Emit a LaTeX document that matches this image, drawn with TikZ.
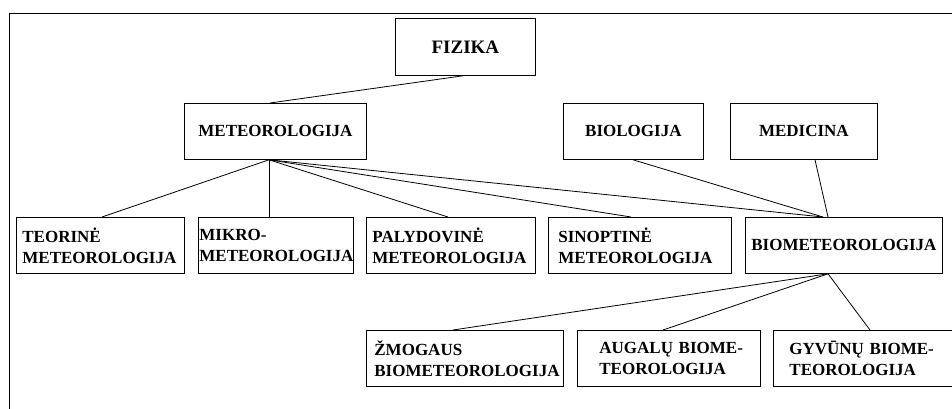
\documentclass[tikz,border=0pt]{standalone}
\usepackage{fontspec}
\setmainfont{Liberation Serif}
\usetikzlibrary{calc,positioning}

\begin{document}
\begin{tikzpicture}[x=1pt,y=-1pt,line width=0.8pt,
     bx/.style={draw,rectangle,anchor=north west,inner ysep=0pt,minimum height=56pt,
       font=\bfseries\fontsize{17}{21}\selectfont},
     bt/.style={bx,align=left}]
    \useasboundingbox (0,0) rectangle (952,409);
    % frame (cut at right and bottom)
    \coordinate (frm) at (9,13);
    \draw (952,13) -- (frm) -- (9,409);
    % top rows
    \node[bx,minimum width=140pt,minimum height=57pt,font=\bfseries\fontsize{19}{21}\selectfont] (fiz) at (395,18) {FIZIKA};
    \node[bx,minimum width=182pt] (meteo) at (184,103) {METEOROLOGIJA};
    \node[bx,minimum width=140pt] (bio) at (563,103) {BIOLOGIJA};
    \node[bx,minimum width=147pt] (med) at (730,103) {MEDICINA};
    % branches of meteorology
    \node[bt,inner xsep=6pt,text width=156pt] (teor) at (16,217) {TEORINĖ\\METEOROLOGIJA};
    \node[bt,inner xsep=1pt,text width=153pt] (mikro) at (198,217) {MIKRO-\\METEOROLOGIJA};
    \node[bt,inner xsep=6pt,text width=157pt] (paly) at (366,217) {PALYDOVINĖ\\METEOROLOGIJA};
    \node[bt,inner xsep=10pt,text width=163pt] (sino) at (548,217) {SINOPTINĖ\\METEOROLOGIJA};
    \node[bx,minimum width=197pt] (biomet) at (745,217) {BIOMETEOROLOGIJA};
    % biometeorology
    \node[bt,inner xsep=8pt,text width=181pt] (zmog) at (366,330) {ŽMOGAUS\\BIOMETEOROLOGIJA};
    \node[bt,inner xsep=22pt,text width=139pt] (aug) at (577,330) {\mbox{AUGALŲ BIOME-}\\TEOROLOGIJA};
    \node[bt,inner xsep=16pt,text width=147pt] (gyv) at (773,330) {\mbox{GYVŪNŲ BIOME-}\\TEOROLOGIJA};
    % links
    \draw ($(fiz.south west)+(68,0)$) -- ($(meteo.north west)+(86,0)$);
    \foreach \t/\d in {teor/86,mikro/71,paly/82,sino/83,biomet/78}
      \draw ($(meteo.south west)+(85,0)$) -- ($(\t.north west)+(\d,0)$);
    \draw ($(bio.south west)+(70,0)$) -- ($(biomet.north west)+(78,0)$);
    \draw ($(med.south west)+(85,0)$) -- ($(biomet.north west)+(83,0)$);
    \foreach \t/\d in {zmog/87,aug/86,gyv/97}
      \draw ($(biomet.south west)+(83,0)$) -- ($(\t.north west)+(\d,0)$);
  \end{tikzpicture}
\end{document}
